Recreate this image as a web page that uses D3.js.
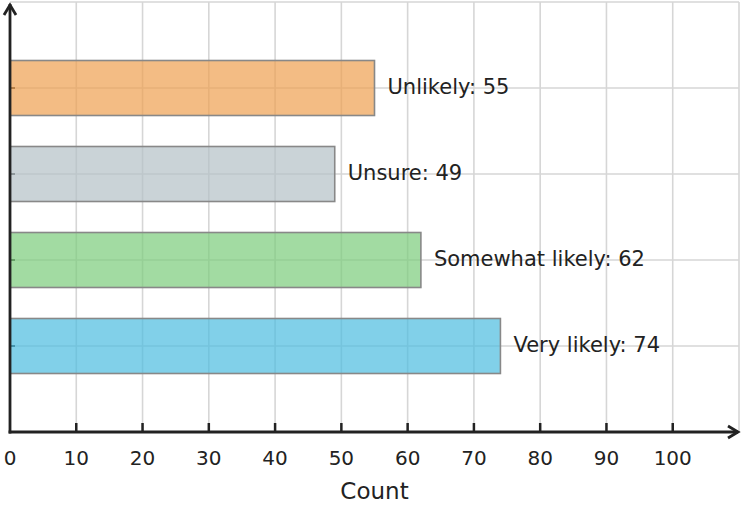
<!DOCTYPE html>
<html>
<head>
<meta charset="utf-8">
<script src="https://cdn.jsdelivr.net/npm/d3@7"></script>
<style>
  body { margin: 0; background: #fff; }
  text { font-family: "DejaVu Sans", sans-serif; fill: #222; }
</style>
</head>
<body>
<svg width="742" height="508"></svg>
<script>
const categories = ["Very likely", "Somewhat likely", "Unsure", "Unlikely"]
const counts = [74, 62, 49, 55]
const barColors = ["#4cbce0", "#7acc7a", "#b4c0c6", "#eea050"]
const xTicks = [0, 10, 20, 30, 40, 50, 60, 70, 80, 90, 100]
const xGrid = [10, 20, 30, 40, 50, 60, 70, 80, 90, 100, 110]

const plotLeft = 10,
  plotRight = 739,
  plotTop = 2,
  plotBottom = 432,
  barHeight = 55

const svg = d3.select("svg")

const x = d3.scaleLinear().domain([0, 110]).range([plotLeft, plotRight])
// categories sit at 1..4, with room for one more slot at the top
const y = d3.scaleLinear().domain([0, 5]).range([plotBottom, plotTop])

// grid
svg.append("g")
  .selectAll("line")
  .data(xGrid)
  .enter()
  .append("line")
  .attr("x1", d => x(d))
  .attr("x2", d => x(d))
  .attr("y1", plotTop)
  .attr("y2", plotBottom)
  .style("stroke", "#d6d6d6")
  .style("stroke-width", 1.6)

svg.append("g")
  .selectAll("line")
  .data([1, 2, 3, 4, 5])
  .enter()
  .append("line")
  .attr("x1", plotLeft)
  .attr("x2", plotRight)
  .attr("y1", d => y(d))
  .attr("y2", d => y(d))
  .style("stroke", "#d6d6d6")
  .style("stroke-width", 1.6)

// small y ticks, under the bars
svg.append("g")
  .selectAll("line")
  .data(categories)
  .enter()
  .append("line")
  .attr("x1", plotLeft)
  .attr("x2", plotLeft + 5)
  .attr("y1", (d, i) => y(i + 1))
  .attr("y2", (d, i) => y(i + 1))
  .style("stroke", "#333")
  .style("stroke-width", 2)

// bars
svg.append("g")
  .selectAll("rect")
  .data(counts)
  .enter()
  .append("rect")
  .attr("x", x(0))
  .attr("y", (d, i) => y(i + 1) - barHeight / 2)
  .attr("width", d => x(d) - x(0))
  .attr("height", barHeight)
  .attr("fill", (d, i) => barColors[i])
  .attr("fill-opacity", 0.7)
  .style("stroke", "#888")
  .style("stroke-width", 1.6)

// value labels
svg.append("g")
  .selectAll("text")
  .data(counts)
  .enter()
  .append("text")
  .attr("x", d => x(d) + 13)
  .attr("y", (d, i) => y(i + 1) - 1)
  .attr("dy", "0.35em")
  .style("font-size", "21px")
  .text((d, i) => `${categories[i]}: ${d}`)

// x ticks (pointing inward) and labels
svg.append("g")
  .selectAll("line")
  .data(xTicks.slice(1))
  .enter()
  .append("line")
  .attr("x1", d => x(d))
  .attr("x2", d => x(d))
  .attr("y1", plotBottom)
  .attr("y2", plotBottom - 9)
  .style("stroke", "#222")
  .style("stroke-width", 2.5)

svg.append("g")
  .selectAll("text")
  .data(xTicks)
  .enter()
  .append("text")
  .attr("x", d => x(d))
  .attr("y", plotBottom + 26)
  .attr("dy", "0.35em")
  .attr("text-anchor", "middle")
  .style("font-size", "20px")
  .text(d => d)

svg.append("text")
  .attr("x", x(55))
  .attr("y", 491)
  .attr("dy", "0.35em")
  .attr("text-anchor", "middle")
  .style("font-size", "23px")
  .text("Count")

// axes with arrowheads
const axisStyle = sel => sel
  .style("stroke", "#222")
  .style("stroke-width", 2.8)
  .style("fill", "none")
  .style("stroke-linecap", "butt")

svg.append("line")
  .attr("x1", plotLeft).attr("x2", plotLeft)
  .attr("y1", plotBottom + 1.4).attr("y2", 4)
  .call(axisStyle)

svg.append("line")
  .attr("x1", plotLeft - 1.4).attr("x2", plotRight - 1)
  .attr("y1", plotBottom).attr("y2", plotBottom)
  .call(axisStyle)

svg.append("path")
  .attr("d", `M${plotLeft - 6},15 L${plotLeft},5 L${plotLeft + 6},15`)
  .call(axisStyle)

svg.append("path")
  .attr("d", `M${plotRight - 11},${plotBottom - 6} L${plotRight - 1},${plotBottom} L${plotRight - 11},${plotBottom + 6}`)
  .call(axisStyle)
</script>
</body>
</html>
